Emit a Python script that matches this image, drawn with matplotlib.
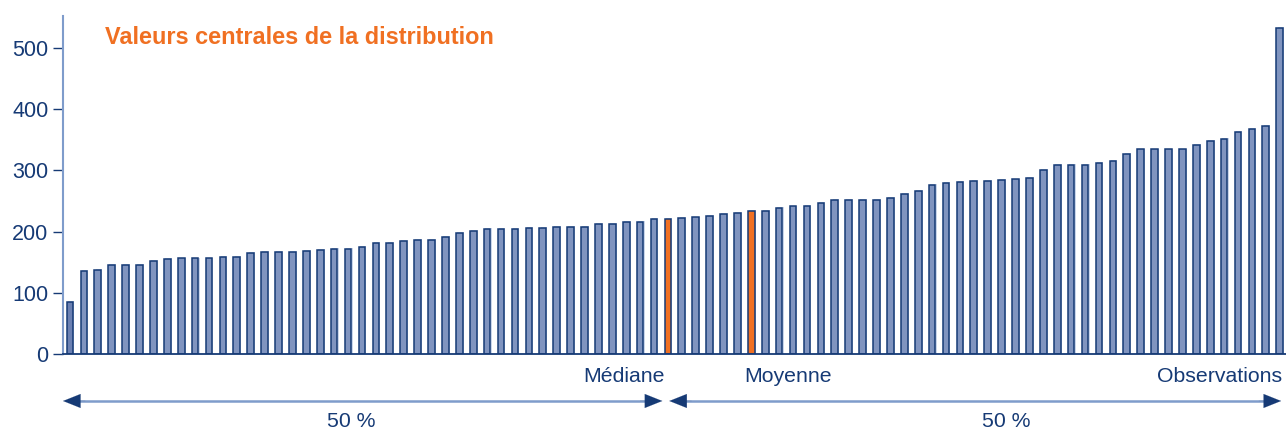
import numpy as np
import matplotlib.pyplot as plt

# sorted observations
values = [85, 135, 137, 145, 145, 146, 152, 155, 156, 156,
          156, 158, 159, 165, 166, 167, 167, 168, 170, 171,
          172, 175, 181, 181, 184, 186, 186, 191, 198, 201,
          204, 204, 204, 206, 206, 207, 208, 208, 212, 212,
          216, 216, 220, 220, 222, 223, 226, 228, 231, 234,
          234, 238, 241, 242, 246, 251, 251, 251, 252, 255,
          261, 267, 276, 279, 281, 283, 283, 284, 285, 288,
          300, 309, 309, 309, 312, 316, 326, 334, 334, 334,
          334, 341, 348, 351, 363, 367, 372, 532]
median_idx = 43
mean_idx = 49
y_ticks = [0, 100, 200, 300, 400, 500]

title = "Valeurs centrales de la distribution"
label_median = "Médiane"
label_mean = "Moyenne"
label_obs = "Observations"
label_half = "50 %"

navy = '#163a75'
bar_fill = '#8094bf'
shadow = '#c9d5ea'
orange = '#f07022'
spine_blue = '#7f9ccb'

plt.rcParams['font.family'] = ['Liberation Sans', 'DejaVu Sans']

fig = plt.figure(figsize=(12.86, 4.32), dpi=100)
ax = fig.add_axes([63 / 1286, 78 / 432, 1 - 63 / 1286, 338 / 432])

x = np.arange(len(values))
colors = [bar_fill] * len(values)
colors[0] = '#6b80b2'
colors[median_idx] = orange
colors[mean_idx] = orange

# faint shadow behind the bars
ax.bar(x + 0.08, np.array(values) + 1.5, width=0.48, color=shadow, zorder=1)
ax.bar(x, values, width=0.48, color=colors, edgecolor=navy, linewidth=1.1, zorder=2)

ax.set_xlim(-0.5, 87.45)
ax.set_ylim(0, 552)
ax.set_yticks(y_ticks)
ax.set_xticks([])
ax.tick_params(axis='y', length=7.5, width=1.0, color=navy, pad=3,
               labelsize=15.5, labelcolor=navy)

for s in ['top', 'right']:
    ax.spines[s].set_visible(False)
ax.spines['left'].set_color(spine_blue)
ax.spines['left'].set_linewidth(1.5)
ax.spines['bottom'].set_color(navy)
ax.spines['bottom'].set_linewidth(1.3)

ax.text(2.5, 0.935, title, transform=ax.get_xaxis_transform(),
        color=orange, fontsize=16.9, fontweight='bold', va='center', ha='left')

trans = ax.get_xaxis_transform()
ax.text(42.75, -0.068, label_median, transform=trans, ha='right', va='center',
        fontsize=15.3, color=navy)
ax.text(48.5, -0.068, label_mean, transform=trans, ha='left', va='center',
        fontsize=15.3, color=navy)
ax.text(87.15, -0.068, label_obs, transform=trans, ha='right', va='center',
        fontsize=15.3, color=navy)

# double arrows for the two halves
y_arr = -0.139
for x0, x1, xm in [(-0.5, 42.6, 20.2), (43.1, 87.1, 67.3)]:
    ax.plot([x0 + 0.8, x1 - 0.8], [y_arr, y_arr], color=spine_blue, lw=1.8,
            transform=trans, clip_on=False, zorder=3)
    for a, b in [(x0 + 1.6, x0), (x1 - 1.6, x1)]:
        ax.annotate('', xy=(b, y_arr), xytext=(a, y_arr),
                    xycoords=trans, textcoords=trans,
                    arrowprops=dict(arrowstyle='-|>,head_length=1.25,head_width=0.5',
                                    color=navy, lw=0.1, shrinkA=0, shrinkB=0),
                    annotation_clip=False)
    ax.text(xm, -0.2, label_half, transform=trans, ha='center', va='center',
            fontsize=15.3, color=navy)

fig.savefig('out.png', dpi=100)
